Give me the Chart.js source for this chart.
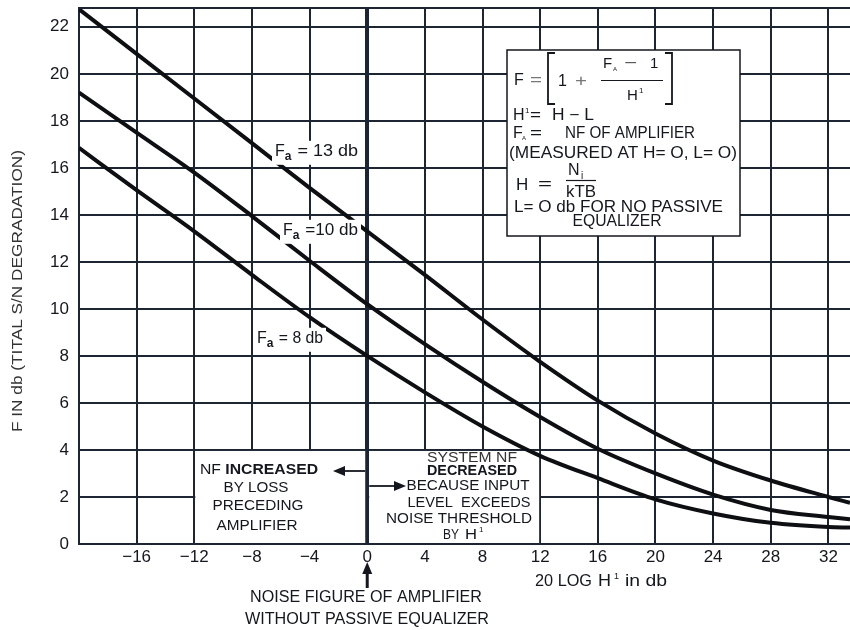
<!DOCTYPE html>
<html>
<head>
<meta charset="utf-8">
<script src="https://cdn.jsdelivr.net/npm/chart.js@4/dist/chart.umd.min.js"></script>
<style>
  html, body { margin: 0; padding: 0; background: #fff; }
  #wrap { width: 850px; height: 630px; }
</style>
</head>
<body>
<div id="wrap"><canvas id="c" width="850" height="630"></canvas></div>
<script>
// 20 log H' (db) sample positions along the curves
const xValues = [-20, -16, -12, -8, -4, 0, 4, 8, 12, 16, 20, 24, 28, 32, 33.5];
// System noise figure F (db) for each amplifier noise figure Fa
const fa13 = [22.75, 20.85, 18.95, 17.05, 15.15, 13.3, 11.45, 9.55, 7.75, 6.1, 4.7, 3.55, 2.7, 2.0, 1.75];
const fa10 = [19.2, 17.5, 15.8, 13.95, 12.05, 10.2, 8.5, 6.9, 5.4, 4.05, 3.0, 2.1, 1.45, 1.15, 1.05];
const fa8  = [16.85, 15.05, 13.3, 11.45, 9.65, 8.0, 6.45, 5.0, 3.75, 2.8, 1.9, 1.3, 0.9, 0.72, 0.7];
// axis ticks / grid
const xTickValues = [-20, -16, -12, -8, -4, 0, 4, 8, 12, 16, 20, 24, 28, 32];
const yTickValues = [0, 2, 4, 6, 8, 10, 12, 14, 16, 18, 20, 22];
const xRange = [-20, 33.5];
const yRange = [0, 22.8];
// curve captions (after the subscripted "Fa")
const curveCaptions = [' = 13 db', ' =10 db', ' = 8 db'];

const INK = '#15171f';
const GRID = '#1d2432';
const FONT = '"Liberation Sans", "DejaVu Sans", sans-serif';

function pts(ys) { return xValues.map((x, i) => ({ x: x, y: ys[i] })); }

function font(size, weight) { return (weight || 'normal') + ' ' + size + 'px ' + FONT; }

function measure(ctx, s, size, weight) {
  ctx.save();
  ctx.font = font(size, weight);
  const w = ctx.measureText(s).width;
  ctx.restore();
  return w;
}

// draw text; opts.width stretches/condenses it horizontally to that width
function txt(ctx, s, x, y, size, opts) {
  opts = opts || {};
  ctx.save();
  ctx.font = font(size, opts.weight);
  ctx.fillStyle = opts.color || INK;
  ctx.textAlign = opts.align || 'left';
  ctx.textBaseline = 'middle';
  ctx.translate(x, y);
  if (opts.width) {
    const nat = ctx.measureText(s).width;
    if (nat > 0) ctx.scale(opts.width / nat, 1);
  }
  ctx.fillText(s, 0, 0);
  ctx.restore();
}

// "F" with subscript "a" followed by the rest of the caption, on a white patch
function faCaption(ctx, x, y, rest, size, totalWidth) {
  const wF = measure(ctx, 'F', size);
  const wa = measure(ctx, 'a', size * 0.75, 'bold');
  const wr = totalWidth - wF - wa - 1;
  ctx.save();
  ctx.fillStyle = '#fff';
  ctx.fillRect(x - 3, y - size * 0.7, totalWidth + 6, size * 1.5);
  ctx.restore();
  txt(ctx, 'F', x, y, size);
  txt(ctx, 'a', x + wF, y + size * 0.3, size * 0.75, { weight: 'bold' });
  txt(ctx, rest, x + wF + wa + 1, y, size, { width: wr });
}

function arrowHead(ctx, tipX, tipY, dir, len, half) {
  ctx.beginPath();
  ctx.moveTo(tipX, tipY);
  if (dir === 'left') { ctx.lineTo(tipX + len, tipY - half); ctx.lineTo(tipX + len, tipY + half); }
  if (dir === 'right') { ctx.lineTo(tipX - len, tipY - half); ctx.lineTo(tipX - len, tipY + half); }
  if (dir === 'up') { ctx.lineTo(tipX - half, tipY + len); ctx.lineTo(tipX + half, tipY + len); }
  ctx.closePath();
  ctx.fill();
}

function line(ctx, x1, y1, x2, y2, w) {
  ctx.save();
  ctx.strokeStyle = INK;
  ctx.lineWidth = w;
  ctx.beginPath(); ctx.moveTo(x1, y1); ctx.lineTo(x2, y2); ctx.stroke();
  ctx.restore();
}

const decorations = {
  id: 'decorations',
  beforeDatasetsDraw(chart) {
    const ctx = chart.ctx;
    const xs = chart.scales.x, ys = chart.scales.y;
    // clear the grid under the two explanation panels below 4 db
    const x0 = xs.getPixelForValue(0), xl = xs.getPixelForValue(-12), xr = xs.getPixelForValue(12);
    const yt = ys.getPixelForValue(4), yb = ys.getPixelForValue(0);
    ctx.save();
    ctx.fillStyle = '#fff';
    ctx.fillRect(xl + 1, yt + 1, x0 - 2 - xl - 1, yb - yt - 2);
    ctx.fillRect(x0 + 2, yt + 1, xr - 1 - x0 - 2, yb - yt - 2);
    ctx.restore();
  },
  afterDatasetsDraw(chart) {
    const ctx = chart.ctx;
    const x0 = chart.scales.x.getPixelForValue(0);

    // curve captions
    faCaption(ctx, 275, 152, curveCaptions[0], 16, 83);
    faCaption(ctx, 283, 231, curveCaptions[1], 16, 75);
    faCaption(ctx, 257, 339, curveCaptions[2], 16, 66);

    // formula panel
    const bx = 507, by = 50, bw = 233, bh = 186;
    ctx.save();
    ctx.fillStyle = '#fff';
    ctx.fillRect(bx, by, bw, bh);
    ctx.strokeStyle = INK;
    ctx.lineWidth = 1.5;
    ctx.strokeRect(bx, by, bw, bh);
    ctx.restore();

    const fs = 16;
    txt(ctx, 'F', 514, 81, fs);
    txt(ctx, '=', 530, 81, fs, { color: '#777', width: 12 });
    ctx.save();
    ctx.strokeStyle = INK;
    ctx.lineWidth = 1.8;
    ctx.beginPath();
    ctx.moveTo(555, 53); ctx.lineTo(548, 53); ctx.lineTo(548, 104); ctx.lineTo(555, 104);
    ctx.moveTo(665, 53); ctx.lineTo(672, 53); ctx.lineTo(672, 104); ctx.lineTo(665, 104);
    ctx.stroke();
    ctx.restore();
    line(ctx, 601, 80.5, 663, 80.5, 1.2);
    txt(ctx, '1', 558, 82, fs);
    txt(ctx, '+', 575, 82, fs, { color: '#777', width: 12 });
    txt(ctx, 'F', 603, 64, fs - 1);
    txt(ctx, 'A', 613, 69, 6);
    txt(ctx, '\u2212', 624, 64, fs, { color: '#555', width: 13 });
    txt(ctx, '1', 650, 64, fs - 1);
    txt(ctx, 'H', 627, 96, fs - 1);
    txt(ctx, '1', 639, 91, 8);

    txt(ctx, 'H', 513, 116, fs);
    txt(ctx, '1', 525, 111, 8);
    txt(ctx, '=', 530, 116, fs, { width: 11 });
    txt(ctx, 'H \u2212 L', 552, 116, fs, { width: 42 });
    txt(ctx, 'F', 513, 134, fs);
    txt(ctx, 'A', 522, 138, 6);
    txt(ctx, '=', 530, 134, fs, { width: 12 });
    txt(ctx, 'NF OF AMPLIFIER', 565, 134, fs, { width: 130 });
    txt(ctx, '(MEASURED AT H= O, L= O)', 509, 154, fs, { width: 228 });
    txt(ctx, 'H', 516, 185, fs + 1);
    txt(ctx, '=', 538, 185, fs, { width: 14 });
    txt(ctx, 'N', 568, 171, fs);
    txt(ctx, 'i', 581, 176, 10);
    line(ctx, 566, 180.5, 596, 180.5, 1.2);
    txt(ctx, 'kTB', 566, 193, fs, { width: 30 });
    txt(ctx, 'L= O db FOR NO PASSIVE', 514, 208, fs, { width: 209 });
    txt(ctx, 'EQUALIZER', 617, 222, fs, { align: 'center', width: 89 });

    // explanation panels
    const ps = 15.5;
    const wNF = measure(ctx, 'NF ', ps);
    const wInc = measure(ctx, 'INCREASED', ps, 'bold');
    const k = 118 / (wNF + wInc);
    txt(ctx, 'NF ', 200, 470, ps, { width: wNF * k });
    txt(ctx, 'INCREASED', 200 + wNF * k, 470, ps, { weight: 'bold', width: wInc * k });
    txt(ctx, 'BY LOSS', 256, 488, ps, { align: 'center', width: 65 });
    txt(ctx, 'PRECEDING', 258, 506, ps, { align: 'center', width: 91 });
    txt(ctx, 'AMPLIFIER', 257, 526, ps, { align: 'center', width: 81 });

    txt(ctx, 'SYSTEM NF', 472, 458, ps, { align: 'center', color: '#333', width: 90 });
    txt(ctx, 'DECREASED', 472, 471, ps, { align: 'center', weight: 'bold', width: 90 });
    txt(ctx, 'BECAUSE INPUT', 468, 486, ps, { align: 'center', width: 123 });
    txt(ctx, 'LEVEL  EXCEEDS', 469, 503, ps, { align: 'center', width: 123 });
    txt(ctx, 'NOISE THRESHOLD', 459, 519, ps, { align: 'center', width: 146 });
    txt(ctx, 'BY', 443, 535, ps, { width: 16 });
    txt(ctx, 'H', 465, 535, ps, { width: 12 });
    txt(ctx, '1', 479, 530, 8);

    ctx.save();
    ctx.fillStyle = INK;
    line(ctx, x0 - 2, 471, 340, 471, 1.8);
    arrowHead(ctx, 333, 471, 'left', 12, 5);
    line(ctx, x0 + 2, 486, 396, 486, 1.8);
    arrowHead(ctx, 406, 486, 'right', 12, 5);
    // pointer to the 0 db line
    line(ctx, x0, 588, x0, 572, 3);
    arrowHead(ctx, x0, 562, 'up', 12, 5);
    ctx.restore();
  },
  afterDraw(chart) {
    const ctx = chart.ctx;
    const ca = chart.chartArea;
    // top border of the grid
    ctx.save();
    ctx.strokeStyle = GRID;
    ctx.lineWidth = 2;
    ctx.beginPath(); ctx.moveTo(ca.left, ca.top); ctx.lineTo(ca.right, ca.top); ctx.stroke();
    ctx.restore();

    // x-axis title
    txt(ctx, '20 LOG', 535, 582, 16, { width: 57 });
    txt(ctx, 'H', 598, 582, 16, { width: 13 });
    txt(ctx, '1', 614, 577, 9);
    txt(ctx, 'in db', 625, 582, 16, { width: 42 });

    txt(ctx, 'NOISE FIGURE OF AMPLIFIER', 366, 598, 16, { align: 'center', width: 232 });
    txt(ctx, 'WITHOUT PASSIVE EQUALIZER', 367, 620, 16, { align: 'center', width: 244 });

    // y-axis title
    ctx.save();
    ctx.translate(18, 291);
    ctx.rotate(-Math.PI / 2);
    txt(ctx, 'F IN db (TITAL S/N DEGRADATION)', 0, 0, 15, { align: 'center', color: '#333', width: 282 });
    ctx.restore();
  }
};

const curveStyle = {
  borderColor: '#0e0f12',
  borderWidth: 4,
  pointRadius: 0,
  fill: false,
  cubicInterpolationMode: 'monotone'
};

new Chart(document.getElementById('c'), {
  type: 'line',
  data: {
    datasets: [
      Object.assign({ label: 'Fa = 13 db', data: pts(fa13) }, curveStyle),
      Object.assign({ label: 'Fa = 10 db', data: pts(fa10) }, curveStyle),
      Object.assign({ label: 'Fa = 8 db', data: pts(fa8) }, curveStyle)
    ]
  },
  options: {
    responsive: false,
    animation: false,
    devicePixelRatio: 1,
    layout: { padding: { top: 8, right: 0, left: 0, bottom: 0 } },
    plugins: { legend: { display: false }, tooltip: { enabled: false } },
    scales: {
      x: {
        type: 'linear',
        min: xRange[0],
        max: xRange[1],
        afterBuildTicks: s => { s.ticks = xTickValues.map(v => ({ value: v })); },
        afterFit: s => { s.height = 86; s.paddingLeft = 0; s.paddingRight = 0; },
        grid: {
          color: GRID,
          lineWidth: c => (c.tick && c.tick.value === 0 ? 4 : 2),
          drawTicks: false
        },
        border: { display: true, color: GRID, width: 2 },
        ticks: {
          padding: 3,
          color: INK,
          font: { size: 17, family: FONT },
          maxRotation: 0,
          autoSkip: false,
          callback: v => (v === xRange[0] ? '' : v < 0 ? '\u2212' + Math.abs(v) : String(v))
        }
      },
      y: {
        type: 'linear',
        min: yRange[0],
        max: yRange[1],
        afterBuildTicks: s => { s.ticks = yTickValues.map(v => ({ value: v })); },
        afterFit: s => { s.width = 79; s.paddingTop = 0; s.paddingBottom = 0; },
        grid: { color: GRID, lineWidth: 2, drawTicks: false },
        border: { display: true, color: GRID, width: 2 },
        ticks: {
          padding: 10,
          color: INK,
          font: { size: 17, family: FONT },
          autoSkip: false
        }
      }
    }
  },
  plugins: [decorations]
});
</script>
</body>
</html>
